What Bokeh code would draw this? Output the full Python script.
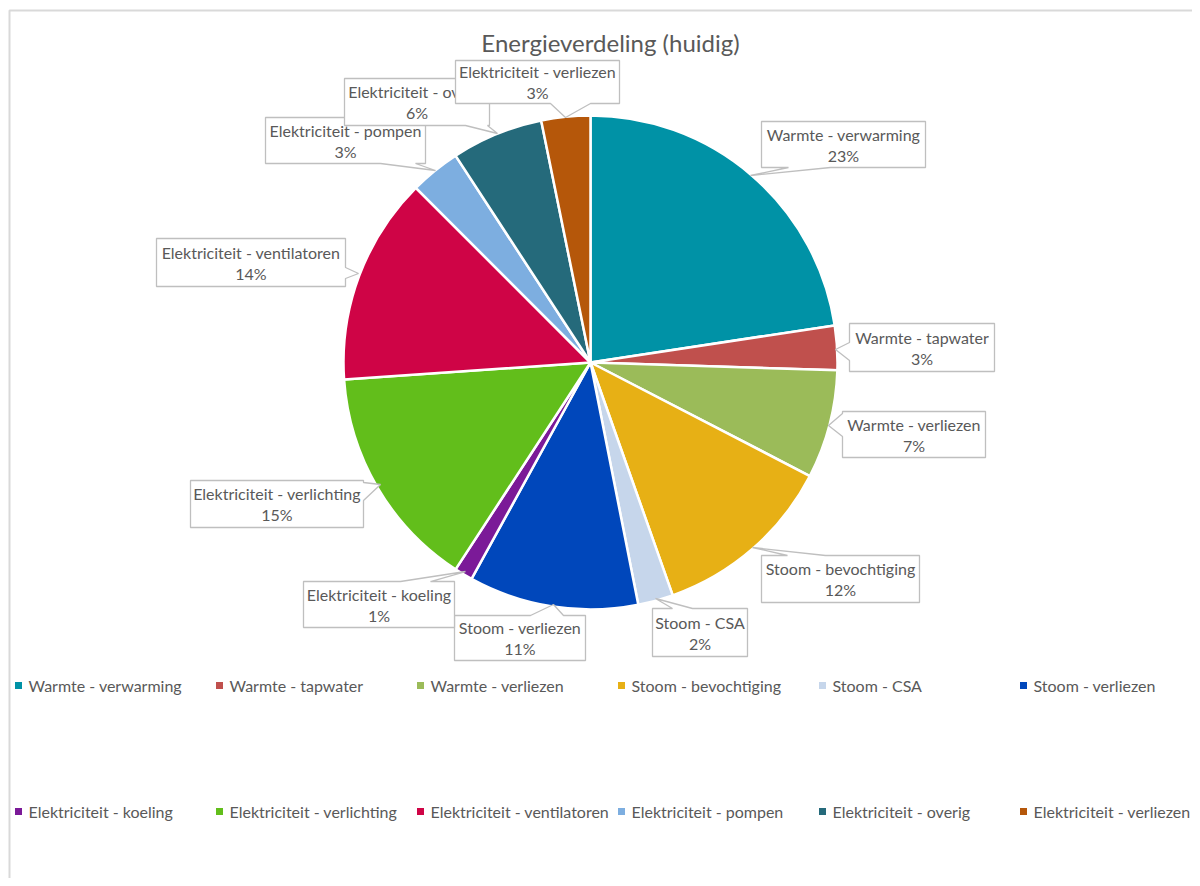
import math
from bokeh.plotting import figure
from bokeh.models import Range1d, ColumnDataSource
from bokeh.core.properties import value
from bokeh.embed import file_html
from bokeh.resources import INLINE

# ---------------- data ----------------
categories = [
    "Warmte - verwarming", "Warmte - tapwater", "Warmte - verliezen",
    "Stoom - bevochtiging", "Stoom - CSA", "Stoom - verliezen",
    "Elektriciteit - koeling", "Elektriciteit - verlichting",
    "Elektriciteit - ventilatoren", "Elektriciteit - pompen",
    "Elektriciteit - overig", "Elektriciteit - verliezen",
]
shares = [22.6, 2.9, 7.1, 12.0, 2.3, 11.1, 1.2, 14.7, 13.6, 3.3, 6.0, 3.2]
colors = [
    "#0092A6", "#C0504D", "#9BBB59", "#E7B015", "#C6D6EB", "#0047BB",
    "#7B1A98", "#62BE1B", "#CF0446", "#7DAEE0", "#256A7B", "#B5570A",
]
title_text = "Energieverdeling (huidig)"

# ---------------- layout (pixel coordinates) ----------------
CX, CY, R = 590, 362, 247
# callout: box x0, y0, x1, y1, side of notch, notch a, notch b, tip x, tip y
callouts = [
    (761, 121, 925, 167, "bottom", 788, 830, 750, 175),
    (849, 323, 994, 371, "left", 342, 360, 835, 349),
    (842, 411, 985, 457, "left", 413, 436, 828, 425),
    (761, 555, 919, 602, "top", 787, 825, 752, 547),
    (652, 608, 747, 656, "top", 672, 692, 655, 598),
    (454, 615, 585, 660, "top", 530, 563, 553, 604),
    (303, 581, 454, 627, "top", 400, 430, 465, 571),
    (190, 480, 363, 527, "right", 482, 500, 380, 484),
    (156, 238, 345, 286, "right", 267, 278, 358, 273),
    (265, 117, 425, 163, "bottom", 380, 415, 435, 170),
    (344, 78, 489, 125, "bottom", 465, 487, 497, 133),
    (455, 60, 619, 103, "bottom", 550, 590, 565, 117),
]
FONT = "Lato"
TXT = "#595959"

W, H = 1192, 878
p = figure(width=W, height=H, output_backend="svg", toolbar_location=None,
           x_range=Range1d(0, W), y_range=Range1d(-H, 0),
           x_axis_type=None, y_axis_type=None, min_border=0)
p.outline_line_color = None
p.xgrid.visible = False
p.ygrid.visible = False
p.background_fill_color = "white"
p.border_fill_color = "white"

# chart area border
p.line(x=[9, 9, W], y=[-H, -10, -10], line_color="#D9D9D9", line_width=2)

# title
p.text(x=[610], y=[-42], text=[title_text], text_align="center", text_baseline="middle",
       text_font=value(FONT), text_font_size="24px", text_color=TXT)

# pie wedges
total = sum(shares)
starts, ends = [], []
cum = 0.0
for v in shares:
    starts.append(math.pi / 2 - 2 * math.pi * cum / total)
    cum += v
    ends.append(math.pi / 2 - 2 * math.pi * cum / total)
src = ColumnDataSource(dict(start=starts, end=ends, color=colors, cat=categories))
p.wedge(x=CX, y=-CY, radius=R, start_angle="start", end_angle="end", direction="clock",
        fill_color="color", line_color="white", line_width=2.5, source=src)

# callouts (drawn in slice order so later ones are on top)
for i, (cat, v) in enumerate(zip(categories, shares)):
    x0, y0, x1, y1, side, a, b, tx, ty = callouts[i]
    pts = [(x0, y0)]
    if side == "top":
        pts += [(a, y0), (tx, ty), (b, y0)]
    pts.append((x1, y0))
    if side == "right":
        pts += [(x1, a), (tx, ty), (x1, b)]
    pts.append((x1, y1))
    if side == "bottom":
        pts += [(b, y1), (tx, ty), (a, y1)]
    pts.append((x0, y1))
    if side == "left":
        pts += [(x0, b), (tx, ty), (x0, a)]
    p.patch(x=[q[0] for q in pts], y=[-q[1] for q in pts], fill_color="white",
            line_color="#BFBFBF", line_width=1.3)
    pct = f"{round(v / total * 100)}%"
    xm = (x0 + x1) / 2
    ym = (y0 + y1) / 2
    p.text(x=[xm, xm], y=[-(ym - 10.5), -(ym + 10.5)], text=[cat, pct],
           text_align="center", text_baseline="middle", text_font=value(FONT),
           text_font_size="16px", text_color=TXT)

# legend
lx, ly = [], []
for i in range(len(categories)):
    col, row = i % 6, i // 6
    lx.append(18 + 201 * col)
    ly.append(-(685 + 126 * row))
p.scatter(x=lx, y=ly, marker="square", size=7, fill_color=colors, line_color=None)
p.text(x=[v + 10 for v in lx], y=ly, text=categories, text_align="left",
       text_baseline="middle", text_font=value(FONT), text_font_size="16px", text_color=TXT)

open("out.html", "w").write(file_html(p, INLINE))
